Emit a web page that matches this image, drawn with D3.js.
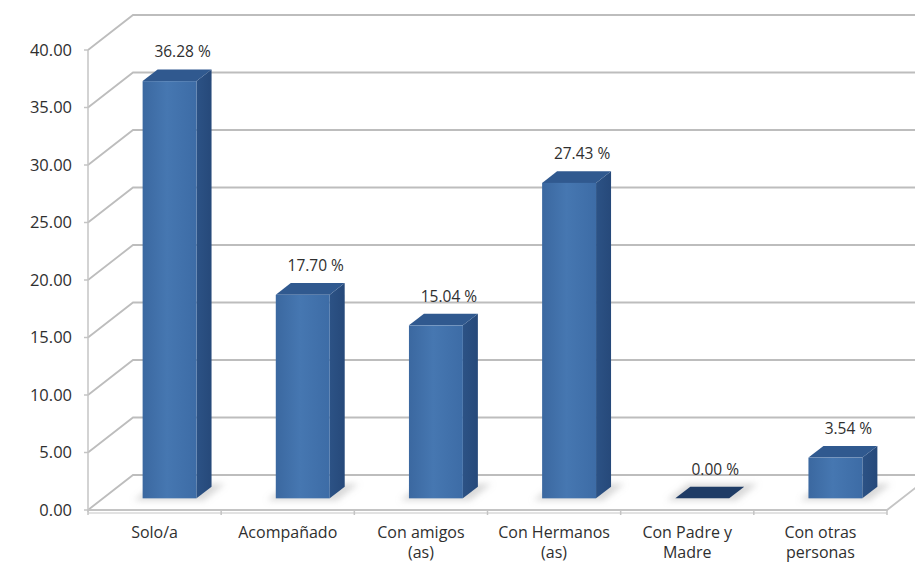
<!DOCTYPE html>
<html>
<head>
<meta charset="utf-8">
<script src="https://cdn.jsdelivr.net/npm/d3@7/dist/d3.min.js"></script>
<style>
  html, body { margin: 0; padding: 0; background: #ffffff; }
  svg { display: block; }
  text { font-family: "Open Sans", "DejaVu Sans", sans-serif; fill: #2f2f2f; }
</style>
</head>
<body>
<svg id="chart" width="915" height="566"></svg>
<script>
// Data
const categories = ["Solo/a", "Acompañado", "Con amigos (as)", "Con Hermanos (as)", "Con Padre y Madre", "Con otras personas"];
const categoryLines = [["Solo/a"], ["Acompañado"], ["Con amigos", "(as)"], ["Con Hermanos", "(as)"], ["Con Padre y", "Madre"], ["Con otras", "personas"]];
const values = [36.28, 17.70, 15.04, 27.43, 0.00, 3.54];
const yTicks = [0, 5, 10, 15, 20, 25, 30, 35, 40];

const svg = d3.select("#chart");

// Plot frame (front plane) and oblique depth offset
const left = 88, right = 887, floorY = 510, topY = 50;
const depthX = 45, depthY = 35;           // full depth of the 3-D box
const barZ0 = 1 / 3, barZ1 = 2 / 3;       // bars sit in the middle third of the depth

const x = d3.scaleBand().domain(categories).range([left, right]).paddingInner(0).paddingOuter(0);
const xBar = d3.scaleBand().domain(categories).range([left, right]).paddingInner(0.595).paddingOuter(0.2975);
const y = d3.scaleLinear().domain([0, 40]).range([floorY, topY]);

// Oblique projection: screen position of a point at depth z (0 = front, 1 = back)
const P = (px, py, z) => [px + z * depthX, py - z * depthY];
const poly = pts => pts.map(p => p.join(",")).join(" ");

const defs = svg.append("defs");
const grad = defs.append("linearGradient").attr("id", "frontGrad").attr("x1", "0%").attr("x2", "100%");
grad.append("stop").attr("offset", "0%").attr("stop-color", "#3b68a0");
grad.append("stop").attr("offset", "45%").attr("stop-color", "#4677b1");
grad.append("stop").attr("offset", "100%").attr("stop-color", "#3d6ca6");
const sideGrad = defs.append("linearGradient").attr("id", "sideGrad").attr("x1", "0%").attr("x2", "100%");
sideGrad.append("stop").attr("offset", "0%").attr("stop-color", "#2c5285");
sideGrad.append("stop").attr("offset", "100%").attr("stop-color", "#26497a");
defs.append("filter").attr("id", "soft").attr("x", "-50%").attr("y", "-50%").attr("width", "200%").attr("height", "200%")
  .append("feGaussianBlur").attr("stdDeviation", 3);
defs.append("filter").attr("id", "lineBlur")
  .append("feGaussianBlur").attr("stdDeviation", 0.6);

// Floor
svg.append("polygon")
  .attr("points", poly([P(left, floorY, 0), P(right, floorY, 0), P(right, floorY, 1), P(left, floorY, 1)]))
  .attr("fill", "#ffffff");

// Gridlines: left wall diagonals + back wall horizontals
const grid = svg.append("g").attr("filter", "url(#lineBlur)");
yTicks.forEach(t => {
  const f = P(left, y(t), 0), b = P(left, y(t), 1), e = P(right, y(t), 1);
  grid.append("polyline")
    .attr("points", poly([f, b, e]))
    .attr("fill", "none").attr("stroke", "#bdbdbd").attr("stroke-width", 1.8);
});

// Floor edges
grid.append("polyline")
  .attr("points", poly([P(left, floorY, 0), P(right, floorY, 0), P(right, floorY, 1)]))
  .attr("fill", "none").attr("stroke", "#c4c4c4").attr("stroke-width", 1.8);
grid.append("line")
  .attr("x1", left).attr("x2", right).attr("y1", floorY + 3).attr("y2", floorY + 3)
  .attr("stroke", "#e2e2e2").attr("stroke-width", 2);

// Front value axis line and ticks
const axisG = svg.append("g").attr("filter", "url(#lineBlur)");
axisG.append("line").attr("x1", left).attr("x2", left).attr("y1", y(40)).attr("y2", floorY + 2)
  .attr("stroke", "#c4c4c4").attr("stroke-width", 1.5);
yTicks.forEach(t => {
  axisG.append("line").attr("x1", left - 4).attr("x2", left).attr("y1", y(t)).attr("y2", y(t))
    .attr("stroke", "#c4c4c4").attr("stroke-width", 1.5);
});
// Category boundary ticks
d3.range(categories.length + 1).forEach(i => {
  const xx = left + i * x.step();
  axisG.append("line").attr("x1", xx).attr("x2", xx).attr("y1", floorY).attr("y2", floorY + 5)
    .attr("stroke", "#c4c4c4").attr("stroke-width", 1.5);
});

// Value tick labels
svg.append("g").selectAll("text").data(yTicks).join("text")
  .attr("x", 72).attr("y", d => y(d)).attr("dy", "0.35em")
  .attr("text-anchor", "end").attr("font-size", 16.5)
  .text(d => d.toFixed(2));

// Category labels, one text per line
const catG = svg.append("g");
categories.forEach((c, i) => {
  const cx = x(c) + x.bandwidth() / 2;
  categoryLines[i].forEach((ln, j) => {
    catG.append("text").attr("x", cx).attr("y", 538 + j * 20)
      .attr("text-anchor", "middle").attr("font-size", 16)
      .text(ln);
  });
});

// Bar shadows on the floor
const shadowG = svg.append("g").attr("filter", "url(#soft)");
categories.forEach(c => {
  const x0 = xBar(c) - 6, x1 = xBar(c) + xBar.bandwidth() + 10;
  shadowG.append("polygon")
    .attr("points", poly([P(x0, floorY, barZ0 - 0.06), P(x1, floorY, barZ0 - 0.06), P(x1, floorY, barZ1 + 0.08), P(x0, floorY, barZ1 + 0.08)]))
    .attr("fill", "#a0a0a0").attr("opacity", 0.4);
});

// Bars (side, top, front)
const barG = svg.append("g");
categories.forEach((c, i) => {
  const v = values[i];
  const x0 = xBar(c), x1 = xBar(c) + xBar.bandwidth();
  const yb = y(0), yt = y(v);
  const g = barG.append("g");
  if (v > 0) {
    g.append("polygon")
      .attr("points", poly([P(x1, yb, barZ0), P(x1, yb, barZ1), P(x1, yt, barZ1), P(x1, yt, barZ0)]))
      .attr("fill", "url(#sideGrad)");
    g.append("polygon")
      .attr("points", poly([P(x0, yt, barZ0), P(x1, yt, barZ0), P(x1, yt, barZ1), P(x0, yt, barZ1)]))
      .attr("fill", "#30598f");
    const fl = P(x0, yt, barZ0), br = P(x1, yb, barZ0);
    g.append("rect")
      .attr("x", fl[0]).attr("y", fl[1]).attr("width", br[0] - fl[0]).attr("height", br[1] - fl[1])
      .attr("fill", "url(#frontGrad)");
  } else {
    g.append("polygon")
      .attr("points", poly([P(x0, yt, barZ0), P(x1, yt, barZ0), P(x1, yt, barZ1), P(x0, yt, barZ1)]))
      .attr("fill", "#1f3c66");
  }
});

// Value labels
svg.append("g").selectAll("text").data(values).join("text")
  .attr("x", (d, i) => P(xBar(categories[i]) + xBar.bandwidth() / 2, 0, barZ0)[0] + 13)
  .attr("y", (d, i) => P(0, y(d), barZ1)[1] - 12)
  .attr("text-anchor", "middle").attr("font-size", 15.5)
  .text(d => d.toFixed(2) + " %");
</script>
</body>
</html>
